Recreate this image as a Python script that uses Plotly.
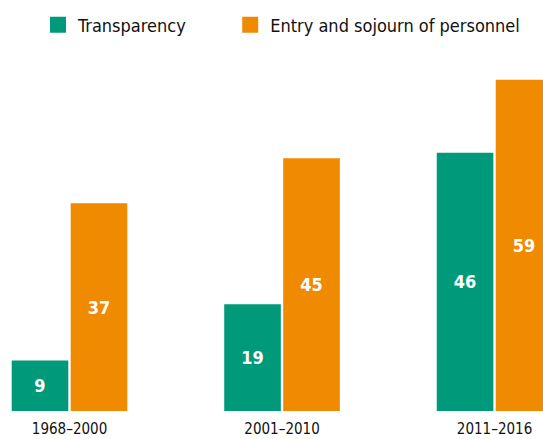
import plotly.graph_objects as go

categories = ["1968–2000", "2001–2010", "2011–2016"]
transparency = [9, 19, 46]
entry_sojourn = [37, 45, 59]
series_names = ["Transparency", "Entry and sojourn of personnel"]
colors = ["#009A7A", "#F08A00"]

FONT = "DejaVu Sans Condensed, Liberation Sans Narrow, Arial Narrow, sans-serif"

fig = go.Figure()
for i, (name, vals, col) in enumerate(zip(series_names, [transparency, entry_sojourn], colors)):
    fig.add_trace(go.Bar(
        x=categories, y=vals, name=name, showlegend=False,
        marker=dict(color=col, line=dict(width=0)),
        text=[str(v) for v in vals], textposition="inside",
        insidetextanchor="middle",
        textfont=dict(color="white", size=18, family=FONT, weight="bold"),
        hoverinfo="skip",
    ))
    # legend proxies
    fig.add_trace(go.Scatter(
        x=[None], y=[None], mode="markers", name=name,
        legend="legend" if i == 0 else "legend2",
        marker=dict(symbol="square", size=17, color=col),
    ))

legend_common = dict(orientation="h", y=0.985, yanchor="top", yref="container",
                     xanchor="left", font=dict(family=FONT, size=18, color="#111111"),
                     bgcolor="rgba(0,0,0,0)")

fig.update_layout(
    width=543, height=439,
    margin=dict(l=0, r=0, t=60, b=28),
    paper_bgcolor="white", plot_bgcolor="white",
    barmode="group", bargap=0.445, bargroupgap=0.04,
    showlegend=True,
    legend=dict(x=0.07, **legend_common),
    legend2=dict(x=0.424, **legend_common),
    xaxis=dict(type="category", range=[-0.327, 2.228], showgrid=False, zeroline=False,
               showline=False, ticks="outside", ticklen=4, tickcolor="rgba(0,0,0,0)",
               automargin=False,
               tickfont=dict(family=FONT, size=15, color="#111111")),
    yaxis=dict(range=[0, 62.5], visible=False, automargin=False),
    font=dict(family=FONT),
)

fig.write_html("out.html", config={"displayModeBar": False},
               post_script="document.body.style.margin='0px';document.body.style.overflow='hidden';")
